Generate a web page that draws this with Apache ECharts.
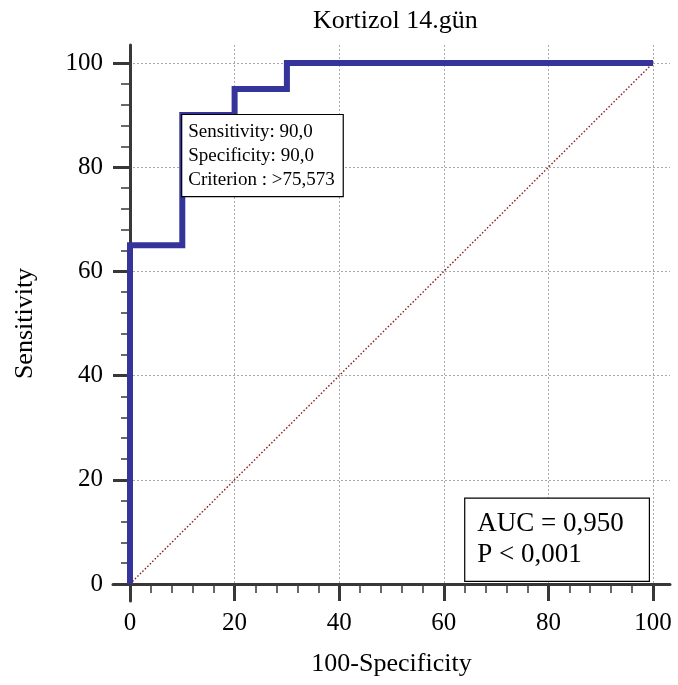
<!DOCTYPE html>
<html><head><meta charset="utf-8">
<script src="https://cdn.jsdelivr.net/npm/echarts@6/dist/echarts.min.js"></script>
<style>html,body{margin:0;padding:0;background:#fff}#c{width:678px;height:685px}</style>
</head><body><div id="c"></div>
<script>
const titleText = 'Kortizol 14.gün';
const xName = '100-Specificity';
const yName = 'Sensitivity';
const tickValues = [0, 20, 40, 60, 80, 100];
const rocX = [0, 0, 10, 10, 20, 20, 30, 30, 100];
const rocY = [0, 65, 65, 90, 90, 95, 95, 100, 100];
const diagX = [0, 100];
const diagY = [0, 100];
const criterionPoint = [10, 90];
const criterionLines = ['Sensitivity: 90,0', 'Specificity: 90,0', 'Criterion : >75,573'];
const aucLines = ['AUC = 0,950', 'P < 0,001'];

const serif = '"Liberation Serif","Times New Roman",serif';
const axisColor = '#383838';
const chart = echarts.init(document.getElementById('c'), null, {renderer: 'canvas'});
const gridLine = {show: true, lineStyle: {color: '#aaaaaa', type: [2, 2], width: 1}};

chart.setOption({
  animation: false,
  backgroundColor: '#fff',
  title: {text: titleText, left: 308, top: 3,
    textStyle: {fontFamily: serif, fontSize: 26, fontWeight: 'normal', color: '#000'}},
  grid: [
    {left: 130, right: 25, top: 63, bottom: 101, containLabel: false, outerBoundsMode: 'none'},
    {left: 113, right: 8, top: 45, bottom: 84, containLabel: false, outerBoundsMode: 'none'}
  ],
  xAxis: [
    {gridIndex: 0, type: 'value', min: 0, max: 100, interval: 20, offset: 17,
      name: xName, nameLocation: 'middle', nameGap: 50,
      nameTextStyle: {fontFamily: serif, fontSize: 26, color: '#000'},
      axisLine: {show: false},
      axisTick: {show: true, length: 17, lineStyle: {color: axisColor, width: 3}},
      minorTick: {show: true, splitNumber: 5, length: 9, lineStyle: {color: axisColor, width: 1.5}},
      splitLine: {show: false},
      axisLabel: {fontFamily: serif, fontSize: 25, color: '#000', margin: 10}},
    {gridIndex: 1, type: 'value', min: -3.25, max: 103.25,
      axisLine: {show: true, lineStyle: {color: axisColor, width: 3}},
      axisTick: {show: false, customValues: tickValues},
      axisLabel: {show: false, customValues: tickValues},
      splitLine: gridLine}
  ],
  yAxis: [
    {gridIndex: 0, type: 'value', min: 0, max: 100, interval: 20, offset: 17,
      name: yName, nameLocation: 'middle', nameGap: 75,
      nameTextStyle: {fontFamily: serif, fontSize: 26, color: '#000'},
      axisLine: {show: false},
      axisTick: {show: true, length: 17, lineStyle: {color: axisColor, width: 3}},
      minorTick: {show: true, splitNumber: 5, length: 9, lineStyle: {color: axisColor, width: 1.5}},
      splitLine: {show: false},
      axisLabel: {fontFamily: serif, fontSize: 25, color: '#000', margin: 10}},
    {gridIndex: 1, type: 'value', min: -3.26, max: 103.45,
      axisLine: {show: true, lineStyle: {color: axisColor, width: 3}},
      axisTick: {show: false, customValues: tickValues},
      axisLabel: {show: false, customValues: tickValues},
      splitLine: gridLine}
  ],
  series: [
    {type: 'line', xAxisIndex: 0, yAxisIndex: 0, data: diagX.map((x, i) => [x, diagY[i]]),
      symbol: 'none', lineStyle: {color: '#8b1a1a', width: 1.4, type: [1.5, 2]}, z: 2},
    {type: 'line', xAxisIndex: 0, yAxisIndex: 0, data: rocX.map((x, i) => [x, rocY[i]]),
      symbol: 'none', lineStyle: {color: '#34349a', width: 6, join: 'miter'}, z: 3,
      markPoint: {
        symbol: 'rect', symbolSize: 0, silent: true,
        data: [{coord: criterionPoint}],
        label: {show: true, position: 'inside', offset: [0, 0], align: 'left', verticalAlign: 'top',
          formatter: criterionLines.join('\n'),
          fontFamily: serif, fontSize: 19, lineHeight: 24, color: '#000',
          backgroundColor: '#fff', borderColor: '#000', borderWidth: 1.2,
          padding: [5, 8, 4, 6]}
      }}
  ],
  graphic: [
    {type: 'text', right: 28, bottom: 103, z: 10,
      style: {text: aucLines.join('\n'), font: '27px ' + serif, fill: '#000', lineHeight: 31,
        backgroundColor: '#fff', borderColor: '#000', borderWidth: 1.2, padding: [10, 25, 10, 12]}}
  ]
});
</script></body></html>
